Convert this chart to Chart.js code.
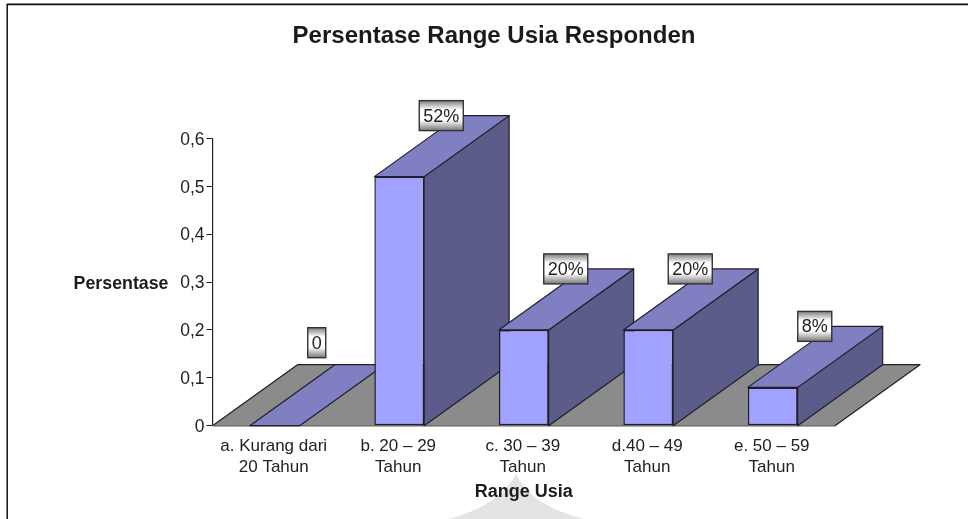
<!DOCTYPE html>
<html>
<head>
<meta charset="utf-8">
<title>Persentase Range Usia Responden</title>
<script src="https://cdn.jsdelivr.net/npm/chart.js@4"></script>
<style>
    html, body { margin: 0; padding: 0; background: #fff; overflow: hidden; }
    canvas { display: block; }
</style>
</head>
<body>
<canvas id="usia-chart" width="968" height="519"></canvas>
<script>
// Chart data
const categories = [
    ['a. Kurang dari', '20 Tahun'],
    ['b. 20 – 29', 'Tahun'],
    ['c. 30 – 39', 'Tahun'],
    ['d.40 – 49', 'Tahun'],
    ['e. 50 – 59', 'Tahun']
];
const values = [0, 0.52, 0.2, 0.2, 0.08];
const valueLabels = ['0', '52%', '20%', '20%', '8%'];
const yTickLabels = ['0', '0,1', '0,2', '0,3', '0,4', '0,5', '0,6'];

const FONT = '"Liberation Sans", Arial, sans-serif';
const DEPTH_X = 85;
const DEPTH_Y = 61;
const LINE = '#1f1f2b';

function polygon(ctx, points, fill) {
    ctx.beginPath();
    points.forEach((p, i) => i ? ctx.lineTo(p[0], p[1]) : ctx.moveTo(p[0], p[1]));
    ctx.closePath();
    ctx.fillStyle = fill;
    ctx.fill();
    ctx.stroke();
}

// Frame, pale backdrop shape and the grey floor
const backdropPlugin = {
    id: 'backdrop',
    beforeDraw(chart) {
        const ctx = chart.ctx;
        ctx.save();
        ctx.fillStyle = '#e4e4e4';
        ctx.beginPath();
        ctx.moveTo(516, 474);
        ctx.quadraticCurveTo(530, 505, 584, 519);
        ctx.lineTo(449, 519);
        ctx.quadraticCurveTo(500, 505, 516, 474);
        ctx.fill();

        ctx.strokeStyle = '#a8a8a8';
        ctx.lineWidth = 1;
        ctx.beginPath();
        ctx.moveTo(7, 3.5);
        ctx.lineTo(968, 3.5);
        ctx.stroke();
        ctx.strokeStyle = '#111';
        ctx.lineWidth = 1.5;
        ctx.beginPath();
        ctx.moveTo(968, 4.6);
        ctx.lineTo(7.2, 4.6);
        ctx.lineTo(7.2, 519);
        ctx.stroke();
        ctx.restore();
    }
};

// Sides and tops of the bars, drawn behind the front faces
const depthPlugin = {
    id: 'depth',
    beforeDatasetsDraw(chart) {
        const ctx = chart.ctx;
        const { left, right, bottom } = chart.chartArea;
        ctx.save();
        ctx.strokeStyle = LINE;
        ctx.lineWidth = 1.2;
        ctx.lineJoin = 'round';
        polygon(ctx, [
            [left, bottom], [right, bottom],
            [right + DEPTH_X, bottom - DEPTH_Y], [left + DEPTH_X, bottom - DEPTH_Y]
        ], '#8b8b8b');
        ctx.strokeStyle = '#6e6e6e';
        ctx.beginPath();
        ctx.moveTo(left, bottom);
        ctx.lineTo(right, bottom);
        ctx.stroke();

        ctx.strokeStyle = LINE;
        chart.getDatasetMeta(0).data.forEach(bar => {
            const x0 = bar.x - bar.width / 2;
            const x1 = bar.x + bar.width / 2;
            const top = bar.y;
            if (bottom - top > 0.5) {
                polygon(ctx, [
                    [x1, top], [x1 + DEPTH_X, top - DEPTH_Y],
                    [x1 + DEPTH_X, bottom - DEPTH_Y], [x1, bottom]
                ], '#5c5c8a');
            }
            polygon(ctx, [
                [x0, top], [x1, top],
                [x1 + DEPTH_X, top - DEPTH_Y], [x0 + DEPTH_X, top - DEPTH_Y]
            ], '#7f7fc2');
        });
        ctx.restore();
    }
};

// Value boxes at the back edge of each bar, plus the horizontal y axis title
const labelPlugin = {
    id: 'valueBoxes',
    afterDatasetsDraw(chart) {
        const ctx = chart.ctx;
        ctx.save();
        ctx.font = '18px ' + FONT;
        ctx.textAlign = 'center';
        ctx.textBaseline = 'middle';
        chart.getDatasetMeta(0).data.forEach((bar, i) => {
            const lift = values[i] === 0 ? 22 : 0;
            const cx = bar.x + DEPTH_X / 2 - 0.5;
            const cy = bar.y - DEPTH_Y - lift;
            const w = ctx.measureText(valueLabels[i]).width + 8;
            const h = 30;
            const grad = ctx.createLinearGradient(0, cy - h / 2, 0, cy + h / 2);
            grad.addColorStop(0, '#7c7c7c');
            grad.addColorStop(0.3, '#ffffff');
            grad.addColorStop(0.65, '#ffffff');
            grad.addColorStop(1, '#777777');
            ctx.fillStyle = grad;
            ctx.strokeStyle = '#333';
            ctx.lineWidth = 1.4;
            ctx.fillRect(cx - w / 2, cy - h / 2, w, h);
            ctx.strokeRect(cx - w / 2, cy - h / 2, w, h);
            ctx.fillStyle = '#222';
            ctx.fillText(valueLabels[i], cx, cy + 1);
        });
        ctx.font = 'bold 17.8px ' + FONT;
        ctx.textAlign = 'right';
        ctx.fillStyle = '#1c1c1c';
        ctx.fillText('Persentase', 168.5, 284);
        ctx.restore();
    }
};

const ctx = document.getElementById('usia-chart').getContext('2d');
new Chart(ctx, {
    type: 'bar',
    data: {
        labels: categories,
        datasets: [{
            data: values,
            backgroundColor: '#a1a1ff',
            borderColor: LINE,
            borderWidth: 1.5,
            borderSkipped: false,
            categoryPercentage: 1,
            barPercentage: 0.4
        }]
    },
    plugins: [backdropPlugin, depthPlugin, labelPlugin],
    options: {
        responsive: false,
        animation: false,
        layout: { padding: { left: 20, right: 0, top: 0, bottom: 0 } },
        plugins: {
            legend: { display: false },
            tooltip: { enabled: false },
            title: {
                display: true,
                text: 'Persentase Range Usia Responden',
                color: '#1a1a1a',
                font: { family: FONT, size: 24, weight: 'bold', lineHeight: 1.2 },
                padding: { top: 21.6, bottom: 87.9 }
            }
        },
        scales: {
            x: {
                grid: { display: false },
                border: { display: false },
                ticks: {
                    color: '#222',
                    font: { family: FONT, size: 17, lineHeight: 1.235 },
                    padding: 2,
                    labelOffset: -1,
                    maxRotation: 0,
                    autoSkip: false
                },
                title: {
                    display: true,
                    text: 'Range Usia',
                    color: '#1c1c1c',
                    font: { family: FONT, size: 18, weight: 'bold' },
                    padding: { top: 0, bottom: 16 }
                },
                afterFit(scale) { scale.height = 93.3; }
            },
            y: {
                min: 0,
                max: 0.6,
                grid: { drawOnChartArea: false, color: '#222', tickLength: 6 },
                border: { display: true, color: '#222', width: 1.2 },
                ticks: {
                    stepSize: 0.1,
                    color: '#222',
                    padding: 2,
                    labelOffset: 1.5,
                    font: { family: FONT, size: 17.5 },
                    callback: (v, i) => yTickLabels[i]
                },
                afterFit(scale) { scale.width = 192.5; }
            },
            // empty column that keeps the plot clear of the floor's right overhang
            spacer: {
                position: 'right',
                grid: { display: false },
                border: { display: false },
                ticks: { display: false },
                afterFit(scale) { scale.width = 133; }
            }
        }
    }
});
</script>
</body>
</html>
